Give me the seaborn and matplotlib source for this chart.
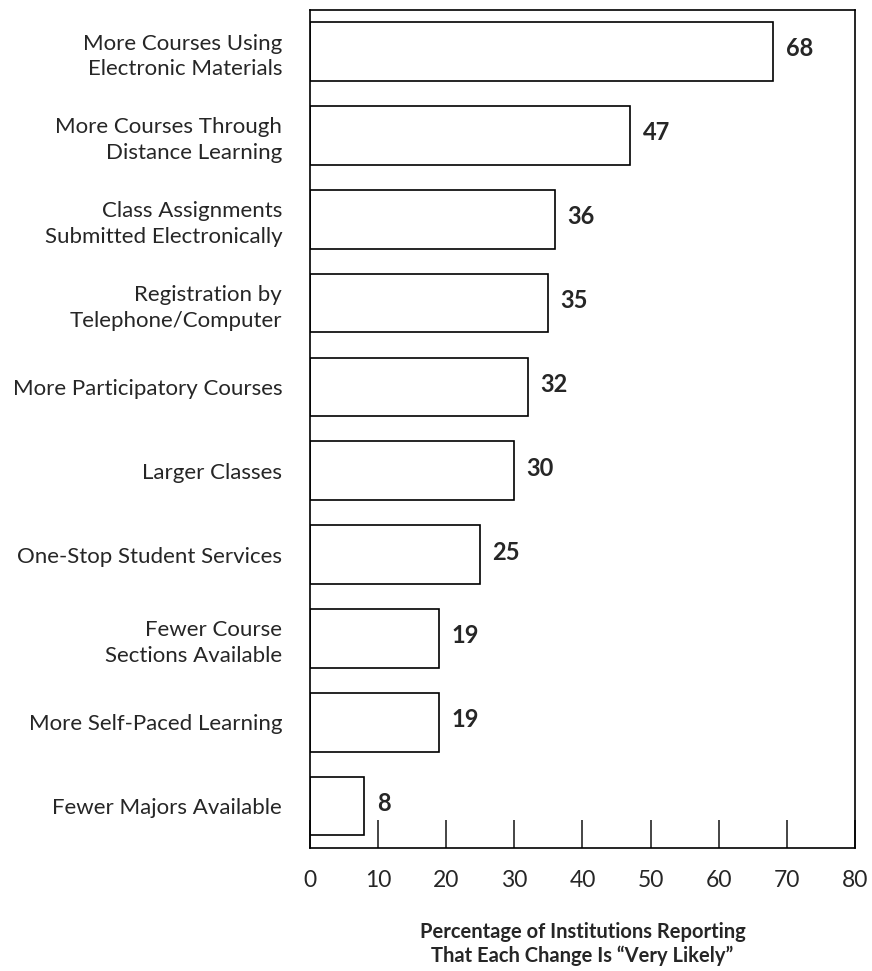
import matplotlib
matplotlib.use("Agg")
import matplotlib.pyplot as plt
import seaborn as sns
import pandas as pd

changes = [
    "More Courses Using\nElectronic Materials",
    "More Courses Through\nDistance Learning",
    "Class Assignments\nSubmitted Electronically",
    "Registration by\nTelephone/Computer",
    "More Participatory Courses",
    "Larger Classes",
    "One-Stop Student Services",
    "Fewer Course\nSections Available",
    "More Self-Paced Learning",
    "Fewer Majors Available",
]
percent = [68, 47, 36, 35, 32, 30, 25, 19, 19, 8]
xticks = [0, 10, 20, 30, 40, 50, 60, 70, 80]

df = pd.DataFrame({"change": changes, "pct": percent})

sns.set_style("white")
plt.rcParams["font.family"] = ["Lato", "DejaVu Sans"]

fig = plt.figure(figsize=(8.72, 9.71), dpi=100)
ax = fig.add_axes([0.3555, 0.1267, 0.625, 0.863])

sns.barplot(data=df, x="pct", y="change", orient="h", color="white",
            edgecolor="black", linewidth=1.2, width=0.70, ax=ax)

# value labels just right of each bar
for i, v in enumerate(percent):
    ax.text(v + 1.8, i - 0.03, str(v), ha="left", va="center",
            fontsize=17, fontweight="bold")

ax.set_xlim(0, 79.5)
ax.set_ylim(len(changes) - 0.5, -0.495)
ax.set_xticks(xticks)
ax.set_xticklabels([str(t) for t in xticks], fontsize=16.5)
ax.tick_params(axis="x", direction="in", length=20, width=1.2,
               bottom=True, pad=16)
ax.tick_params(axis="y", length=0, labelsize=16, pad=20)
for lab in ax.get_yticklabels():
    lab.set_linespacing(1.35)
ax.set_ylabel("")
ax.set_xlabel("Percentage of Institutions Reporting\nThat Each Change Is \u201cVery Likely\u201d",
              fontsize=14.5, fontweight="bold", labelpad=22, linespacing=1.25)

for s in ax.spines.values():
    s.set_visible(True)
    s.set_color("black")
    s.set_linewidth(1.2)

fig.savefig("out.png", dpi=100)
